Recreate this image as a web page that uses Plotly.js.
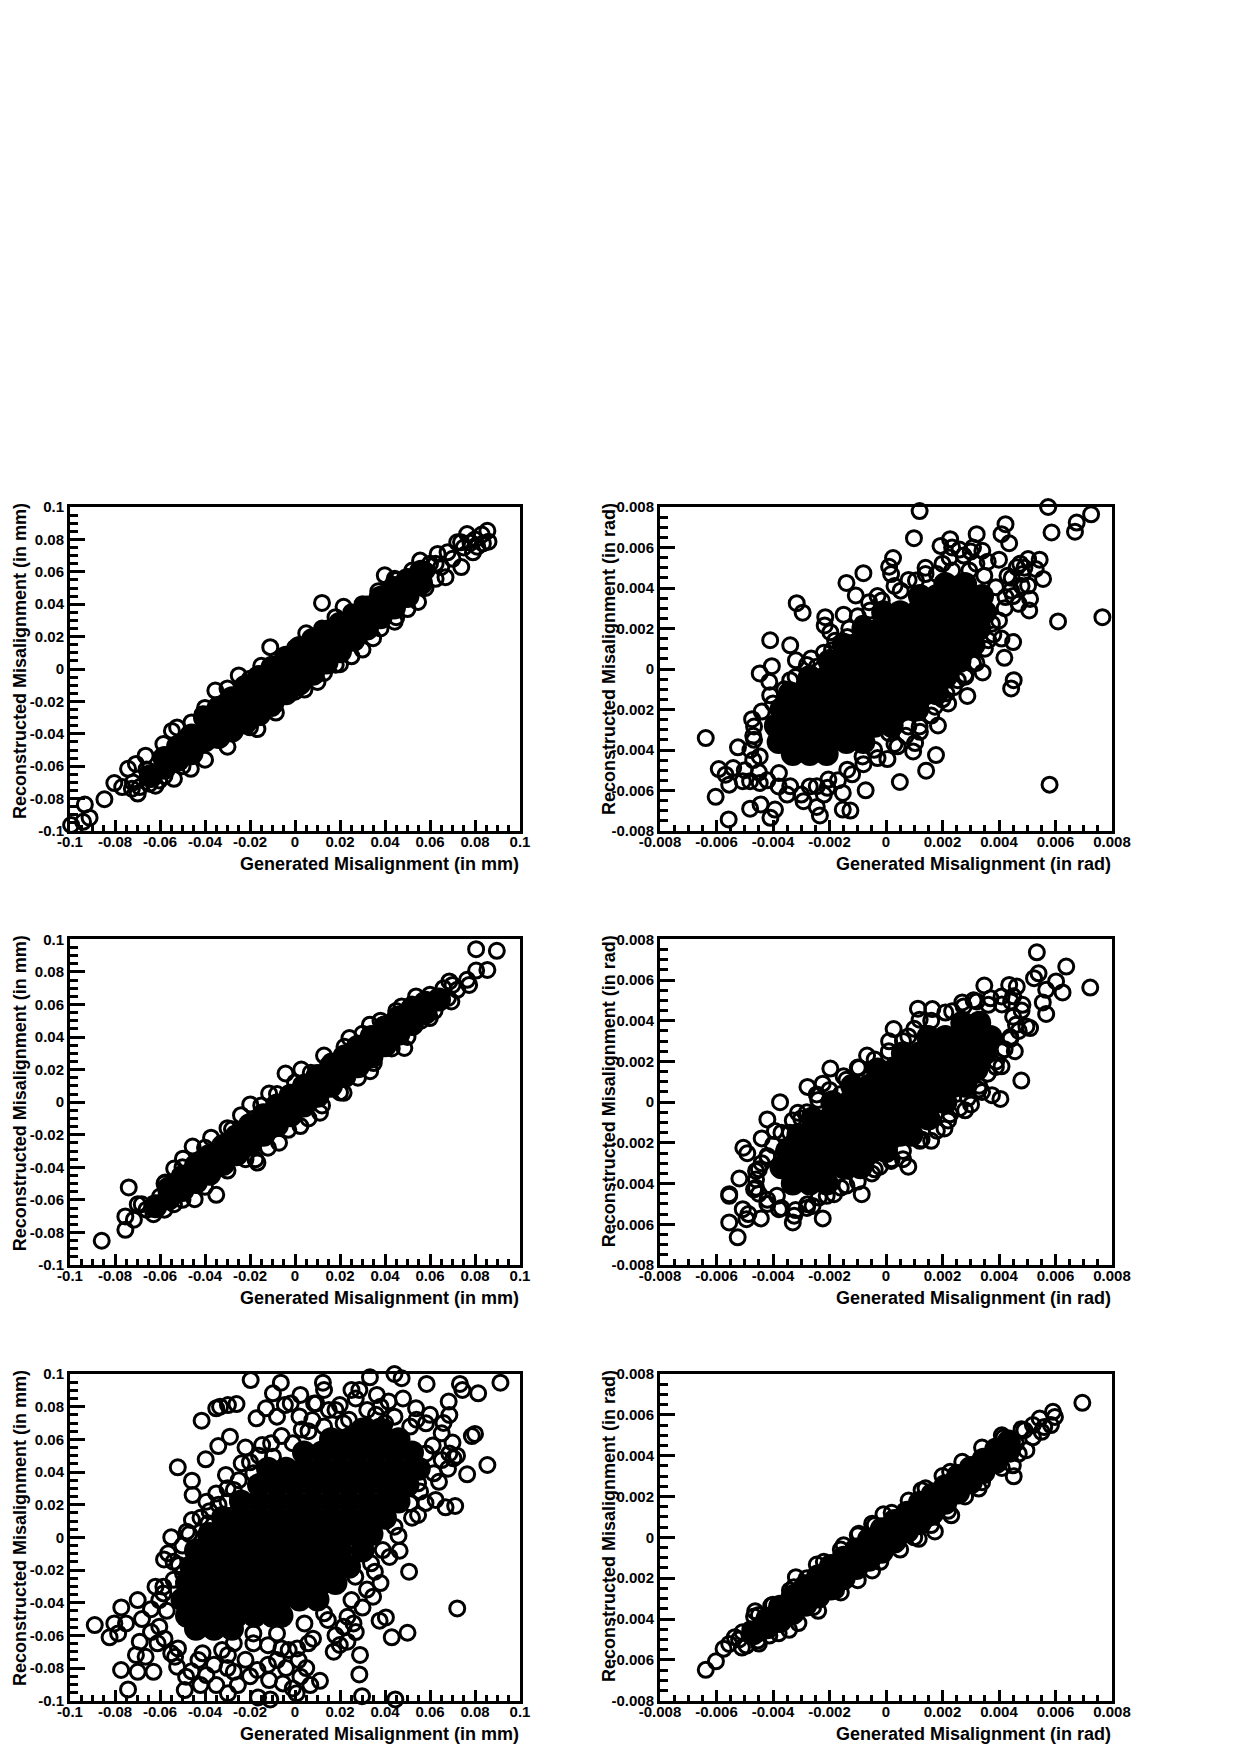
<!DOCTYPE html>
<html><head><meta charset="utf-8">
<script src="https://cdn.plot.ly/plotly-3.0.1.min.js"></script>
<style>html,body{margin:0;padding:0;background:#fff}#c{width:1240px;height:1754px}</style>
</head><body><div id="c"></div>
<script>
// ---------- tick labels ----------
const mmTicks=[-0.1,-0.08,-0.06,-0.04,-0.02,0,0.02,0.04,0.06,0.08,0.1];
const mmLabels=['-0.1','-0.08','-0.06','-0.04','-0.02','0','0.02','0.04','0.06','0.08','0.1'];
const radTicks=[-0.008,-0.006,-0.004,-0.002,0,0.002,0.004,0.006,0.008];
const radLabels=['-0.008','-0.006','-0.004','-0.002','0','0.002','0.004','0.006','0.008'];
const titleXmm='Generated Misalignment (in mm)', titleYmm='Reconstructed Misalignment (in mm)';
const titleXrad='Generated Misalignment (in rad)', titleYrad='Reconstructed Misalignment (in rad)';

// ---------- panel 1 (mm, top left) ----------
const p1Open=[[.012,.0408],[.0216,.0384],[-.011,.0135],[-.0354,-.0133],[-.0085,-.0269],[-.0167,-.0371],[-.0847,-.0804],[-.0934,-.0837],[-.0913,-.0918],[-.0995,-.0963],[-.0942,-.0943],[-.0538,-.0678],[-.0463,-.0616],[-.0524,-.0361],[-.0547,-.0382],[-.0585,-.0463],[-.0664,-.0535],[-.0707,-.0586],[-.0742,-.0616],[-.0803,-.0704],[-.0768,-.0729],[-.0699,-.0769],[-.0725,-.0739],[-.069,-.0729],[-.0646,-.0708],[-.0603,-.0688],[-.0411,-.028],[.0855,.0853],[.086,.0786],[.0765,.0833],[.0721,.0782],[.0791,.072],[.0739,.0629],[.0669,.0567],[.0625,.0557],[.0634,.071],[.0678,.072],[.0556,.0669],[.0521,.0608],[.0399,.0578],[.0443,.0557],[.0547,.0414],[.0443,.0292],[.0347,.019],[.0251,.0078],[.0181,.0027],[.0129,-.0024],[.0042,-.0127],[-.002,-.0145],[.0738,.0782],[.081,.0755],[.0835,.0775],[.0625,.065],[.0585,.0605],
[-.072,-.07],[-.066,-.062],[-.062,-.072],[-.058,-.066],[-.05,-.06],[-.046,-.033],[-.04,-.024],[-.03,-.012],[-.025,-.004],[-.02,-.006],[-.015,.002],[-.005,.007],[0,.013],[.005,.022],[.012,.025],[.018,.032],[.025,.035],[.03,.04],[.037,.048],[.045,.055],[.056,.06],[.06,.065],[.065,.063],[.07,.068],[.075,.075],[.08,.08],[.083,.083],[.078,.078],[.03,.012],[.038,.025],[.045,.032],[.05,.037],[.058,.05],[-.03,-.048],[-.04,-.056],[-.02,-.036],[-.01,-.024],[0,-.014],[.01,-.008],[.02,.003]];
const p1CoreCols=[[-.064,[-.066]],[-.058,[-.061,-.055]],[-.052,[-.056,-.048]],[-.046,[-.052,-.041]],[-.04,[-.044,-.03]],[-.034,[-.042,-.033,-.024]],[-.028,[-.038,-.028,-.018]],[-.022,[-.033,-.022,-.011]],[-.016,[-.028,-.016,-.005]],[-.01,[-.021,-.01,.001]],[-.004,[-.015,-.004,.007]],[.002,[-.009,.002,.013]],[.008,[-.003,.008,.018]],[.014,[.004,.014,.023]],[.02,[.011,.02,.028]],[.026,[.018,.025,.032]],[.032,[.025,.038]],[.038,[.032,.044]],[.044,[.038,.05]],[.05,[.045,.055]],[.056,[.053,.06]]];

// ---------- panel 2 (rad, top right) ----------
const p2Open=[[.00119,.0078],[.00574,.008],[.00726,.00764],[.00675,.00723],[.00669,.00678],[.00586,.00674],[.00099,.00646],[.00423,.00715],[.00409,.00666],[.00436,.00621],[.00766,.00256],[.00609,.00235],[.00579,-.00571],[.00556,.00445],[.00544,.0054],[.0053,.00494],[.00503,.00543],[.00463,.00502],[.00483,.00469],[.00503,.00412],[.0051,.00346],[.00507,.00289],[.0045,.00133],[.00409,.0015],[.00419,.00055],[.00452,-.00055],[.00443,-.00096],[.00342,-.00017],[.00288,-.00133],[.0022,-.0017],[.00184,-.00279],[.00177,-.00425],[.00142,-.00502],[.00049,-.00558],[.00096,-.00407],[.00103,-.00366],[.00041,-.00382],[.00005,-.00445],[-.00072,-.00599],[-.00126,-.00699],[-.00153,-.00694],[-.00153,-.00612],[-.00207,-.00587],[-.00234,-.00723],[-.00245,-.00681],[-.00292,-.00653],[-.00393,-.00694],[-.00409,-.00735],[-.00444,-.00669],[-.00481,-.0069],[-.00557,-.00743],[-.00603,-.00631],[-.00638,-.00341],[-.00524,-.00387],[-.00592,-.00494],[-.00568,-.00522],[-.00541,-.00489],[-.00555,-.00571],[-.00507,-.00554],[-.00481,-.00554],[-.00447,-.00563],[-.00474,-.00248],[-.00447,-.00022],[-.00413,-.00063],[-.00404,.00014],[-.0041,.00142],[-.00339,.00117],[-.00316,.00325],[-.00295,.00278],[-.00319,.00043],[-.00265,.00052],[-.00215,.00256],[-.00217,.00215],[-.00197,.00182],[-.0015,.00268],[-.0014,.00425],[-.0008,.00473],[-.00107,.00363],[.00025,.00548],[.00011,.00505],[.00018,.00469],[.00193,.00608],[.00227,.00641],[.00321,.00666],
[.00106,.00437],[.0014,.00469],[.0018,.00469],[.00234,.00486],[.00295,.00486],[.00348,.00461],[.00389,.00404],[.00423,.00355],[.00443,.00387],[.0047,.00322],[.00375,.00224],[.00362,.00142],[.00308,.00027],[.00281,-.00038],[.00254,-.00055],[.00214,-.0012],[.00173,-.00186],[.00119,-.00284],[.00079,-.00284],[.00011,-.00317],[-.00042,-.00399],[-.00083,-.00432],[-.00137,-.00497],[-.00204,-.00546],[-.00245,-.00579],[-.00339,-.00579],[-.00379,-.00514],[-.00447,-.00432],[-.00467,-.0035],[-.00467,-.00284],[-.004,-.0017],[-.00339,-.00055],[-.00245,.00011],[-.00191,.00093],[-.00137,.00158],[-.00083,.00224],[-.00056,.00289],[-.00015,.00338],[.00052,.00387],[.00234,.006],[.00308,.006],[.00341,.00584],[.00275,.0056],[.00225,.0055],[.0032,.0052],[.00445,.0045],[.00475,.0052],[.0049,.005],
[-.0047,-.0045],[-.005,-.005],[-.0045,-.0051],[-.0042,-.0055],[-.0038,-.0058],[-.0035,-.0062],[-.003,-.0062],[-.0027,-.0058],[-.0022,-.0062],[-.0017,-.0055],[-.0012,-.0052],[-.0008,-.0047],[-.0003,-.0044],[.0003,-.0037],[.0007,-.0033],[.0012,-.0031],[.0016,-.0023],[.002,-.0015],[.0024,-.0009],[.0028,-.0003],[.0032,.0003],[.0035,.001],[.0038,.0017],[.004,.0024],[.0042,.003],[.0045,.0036],[.0048,.0041],[.0043,.0046],[.004,.0054],[.0036,.0053],[.003,.0058],[.0026,.0059],[.002,.0052],[.0014,.005],[.0008,.0044],[.0003,.0041],[-.0003,.0036],[-.0006,.0033],[-.001,.0026],[-.0013,.002],[-.0018,.0014],[-.0022,.0008],[-.0028,.0002],[-.0032,-.0004],[-.0036,-.001],[-.0041,-.0013],[-.0044,-.0021],[-.0047,-.0033],[-.0048,-.004]];
const p2CoreRows=[[.0042,[.0021,.0028]],[.0036,[.0012,.0018,.0024,.003,.0034]],[.0028,[-.0001,.0005,.0011,.0017,.0023,.0029,.0035]],[.002,[-.0008,-.0002,.0004,.001,.0016,.0022,.0028,.0033]],[.0012,[-.0015,-.0009,-.0003,.0003,.0009,.0015,.0021,.0027,.0031]],[.0004,[-.002,-.0014,-.0008,-.0002,.0004,.001,.0016,.0022,.0026]],[-.0004,[-.0027,-.0021,-.0015,-.0009,-.0003,.0003,.0009,.0015,.0021]],[-.0012,[-.0034,-.0028,-.0022,-.0016,-.001,-.0004,.0002,.0008,.0014,.0018]],[-.002,[-.0037,-.0031,-.0025,-.0019,-.0013,-.0007,-.0001,.0005,.0011]],[-.0028,[-.0039,-.0034,-.0028,-.0022,-.0016,-.001,-.0004,.0002]],[-.0036,[-.0038,-.0032,-.0026,-.002,-.0014,-.0008]],[-.0042,[-.0033,-.0027,-.0021]]];

// ---------- panel 3 (mm, middle left) ----------
const p3Open=[[.0805,.0939],[.0897,.0929],[.0805,.0808],[.0855,.0812],[.0774,.072],[.0765,.0751],[.0721,.069],[.0686,.0741],[.0538,.0649],[.0474,.0588],[.0333,.0476],[.0242,.0394],[.0129,.0286],[-.0042,.0176],[.0028,.02],[-.0115,.0053],[-.0199,-.0014],[-.028,-.0167],[-.0373,-.0218],[-.0455,-.0273],[-.0498,-.0347],[-.0537,-.0408],[-.0577,-.0494],[-.0739,-.0524],[-.0699,-.0627],[-.0681,-.0627],[-.0754,-.0702],[-.0716,-.0722],[-.0754,-.0784],[-.0859,-.0851],[-.035,-.0569],[-.0446,-.0596],[-.0538,-.0627],[-.0629,-.0688],[-.0167,-.0371],[-.0176,-.0351],[-.0071,-.0249],[.0024,-.0147],[.0111,-.0065],[.0216,.0057],[.0334,.019],[.0486,.0333],[.0599,.0516],[.0695,.0618],
[-.066,-.066],[-.06,-.058],[-.058,-.05],[-.05,-.04],[-.04,-.028],[-.03,-.016],[-.024,-.008],[-.015,-.002],[-.008,.005],[0,.012],[.007,.018],[.016,.025],[.022,.034],[.03,.042],[.038,.05],[.045,.056],[.052,.06],[.06,.066],[.066,.07],[.07,.072],[.068,.064],[.062,.056],[.056,.05],[.05,.04],[.043,.033],[.035,.024],[.028,.015],[.02,.006],[.012,-.002],[.006,-.01],[-.003,-.017],[-.012,-.028],[-.022,-.035],[-.03,-.042],[-.04,-.052],[-.05,-.06],[-.058,-.066]];
const p3CoreCols=[[-.062,[-.064]],[-.056,[-.059,-.053]],[-.05,[-.054,-.046]],[-.044,[-.049,-.039]],[-.038,[-.044,-.033]],[-.032,[-.038,-.027]],[-.026,[-.032,-.021]],[-.02,[-.026,-.014]],[-.014,[-.02,-.008]],[-.008,[-.014,-.002]],[-.002,[-.008,.004]],[.004,[-.002,.01]],[.01,[.004,.016]],[.016,[.01,.022]],[.022,[.016,.028]],[.028,[.022,.034]],[.034,[.028,.04]],[.04,[.035,.046]],[.046,[.042,.052]],[.052,[.048,.057]],[.058,[.055,.061]],[.064,[.063]]];

// ---------- panel 4 (rad, middle right) ----------
const p4Open=[[.00534,.00736],[.00638,.00666],[.00723,.00563],[.0054,.00633],[.00524,.00609],[.00602,.00593],[.00567,.00552],[.00625,.00539],[.00555,.0049],[.00567,.00433],[.0051,.00364],[.00497,.00372],[.00348,.00573],[.00436,.00576],[.00463,.00568],[.00483,.00478],[.00456,.0025],[.00409,.00176],[.00389,.00173],[.00479,.00106],[.00375,.00034],[.00405,.00016],[.00328,.00062],[.00301,-.00011],[.00227,-.0006],[.00207,-.00129],[.00126,-.00183],[.00079,-.00317],[.00018,-.00289],[-.00022,-.00317],[-.00086,-.00452],[-.00184,-.00452],[-.00224,-.00571],[-.00238,-.00469],[-.00278,-.00501],[-.00325,-.00558],[-.0033,-.00591],[-.00379,-.00526],[-.00386,-.0046],[-.00443,-.00571],[-.00487,-.0055],[-.00494,-.00575],[-.00507,-.00526],[-.00555,-.00591],[-.00525,-.00664],[-.00555,-.0046],[-.00555,-.00452],[-.00519,-.00375],[-.0046,-.00338],[-.00467,-.00428],[-.00505,-.00224],[-.00491,-.00251],[-.0044,-.00178],[-.0042,-.00085],[-.0042,-.00264],[-.00393,-.00142],[-.00375,0],[-.00312,-.00052],[-.00278,.00075],[-.00224,.00091],[-.00245,.00038],[-.00197,.00165],[-.0015,.00127],[-.00067,.00229],[-.00096,.00168],[.00011,.00299],[.00027,.00359],[.00079,.00323],[.00113,.00459],[.00164,.00457],[.00119,.00405],[.00234,.00446],[.00321,.00495],[.00362,.00478],[.00409,.00519],[.00443,.00495],[.00275,.0047],[.0045,.0042],[.0047,.0035],[.0044,.0031],[.0041,.0025],[.0034,.0005],[.0028,-.0004],[.0016,-.0019],[.0006,-.0028],[-.0005,-.0035],[-.0016,-.0042],[-.0028,-.0052],[-.0042,-.0048],[-.0046,-.0042],[-.0044,-.003],[-.0034,-.0015],[-.003,-.0008],[-.0016,.0004],[-.0003,.0016],
[-.0045,-.0045],[-.0042,-.005],[-.0037,-.0052],[-.0032,-.0053],[-.0026,-.0051],[-.0021,-.0046],[-.0014,-.0041],[-.001,-.0039],[-.0004,-.0033],[.0002,-.0028],[.0006,-.0024],[.0012,-.0019],[.0018,-.0014],[.0022,-.0009],[.0026,-.0003],[.0029,.0002],[.0033,.0008],[.0036,.0014],[.0039,.002],[.0042,.0026],[.0044,.0032],[.0046,.0038],[.0048,.0045],[.0045,.0052],[.0041,.0048],[.0037,.0051],[.0031,.005],[.0027,.0049],[.0021,.0044],[.0016,.004],[.001,.0036],[.0006,.003],[.0001,.0025],[-.0004,.0021],[-.001,.0017],[-.0014,.0011],[-.002,.0006],[-.0024,.0001],[-.0028,-.0005],[-.0033,-.0009],[-.0037,-.0015],[-.004,-.0021],[-.0042,-.0027],[-.0045,-.0033],[-.0046,-.0038]];
const p4CoreRows=[[.0039,[.0027,.0033]],[.0032,[.0015,.0021,.0027,.0033,.0037]],[.0024,[.0006,.0012,.0018,.0024,.003,.0035]],[.0016,[-.0003,.0003,.0009,.0015,.0021,.0027,.0032]],[.0008,[-.0012,-.0006,0,.0006,.0012,.0018,.0024,.0028]],[0,[-.0019,-.0013,-.0007,-.0001,.0005,.0011,.0017,.0021]],[-.0008,[-.0026,-.002,-.0014,-.0008,-.0002,.0004,.001,.0015]],[-.0016,[-.0031,-.0025,-.0019,-.0013,-.0007,-.0001,.0005,.0009]],[-.0024,[-.0035,-.003,-.0024,-.0018,-.0012,-.0006,0]],[-.0032,[-.0037,-.0033,-.0027,-.0021,-.0015,-.0009]],[-.004,[-.0033,-.0027,-.0021]]];

// ---------- panel 5 (mm, bottom left) ----------
const p5Open=[[.0442,.1],[.0474,.0974],[.0333,.098],[-.0197,.0963],[-.0063,.0947],[.0124,.0947],[.0129,.0902],[.0585,.0939],[.0733,.0939],[.0744,.0902],[.0814,.0882],[.0913,.0947],[-.0098,.0882],[.0024,.0872],[-.026,.0816],[-.0298,.081],[-.0333,.08],[-.035,.079],[-.0415,.0714],[-.0129,.079],[-.0171,.0729],[-.008,.0739],[-.0045,.081],[-.0019,.082],[.0085,.082],[.0199,.081],[.0251,.0902],[.0286,.0902],[.0364,.0872],[.0416,.0831],[.0683,.0831],[.0686,.0749],[.0538,.079],[.08,.0633],[.0786,.062],[-.0289,.0616],[-.0341,.0559],[-.0397,.0478],[-.0521,.0429],[-.0146,.0565],[-.0106,.0576],[-.0237,.0453],[.0855,.0443],[.0765,.0386],[.0704,.0484],[-.0307,.0382],[-.0458,.0347],[-.0455,.0259],[-.0394,.0218],[-.035,.0269],[.0625,.0229],[.0669,.0184],[.0712,.0192],[.0547,.0137],[.0556,.028],[-.055,0],[-.0458,.0106],[-.0481,.0035],[-.0385,.0086],[-.0564,-.0098],[-.0582,-.0135],[-.0516,-.0169],[-.0585,-.0302],[.0465,-.0082],[.0507,-.021],[.0355,-.021],[.0347,-.0363],[.0721,-.0435],[-.0699,-.0384],[-.0772,-.0429],[-.089,-.0537],[-.0803,-.0527],[-.0824,-.0612],[-.0751,-.0527],[-.0786,-.0588],[-.069,-.0639],[-.0707,-.072],[-.0664,-.0731],[-.0629,-.0823],[-.0699,-.0823],[-.0773,-.0812],[-.0742,-.0931],[.05,-.0584],[.043,-.0612],[.0404,-.049],[.0376,-.051],[.0289,-.072],[.0286,-.0839],[.0298,-.0972],[.0446,-.0992],[.0111,-.0878],[.0068,-.0904],[.0172,-.07],[.0233,-.0639],[.0199,-.0659],[.0059,-.0649],[-.0164,-.098],[-.011,-.0992],[-.0298,-.0955],[-.0254,-.0904],[-.035,-.0904],[-.042,-.0904],[-.049,-.0935],[-.0484,-.0853],[-.0524,-.0792],[-.0394,-.0843],[-.0272,-.0823],[-.0167,-.0812],[-.0115,-.0874],[-.0054,-.0894],[-.001,-.0925],[.0007,-.0955],[.0024,-.0853],[.0016,-.0751],[-.0028,-.069],[-.008,-.0751],[-.0185,-.0649],[-.0298,-.072],[.0146,-.0506],[.0216,-.0547],[.026,-.0527],[-.0603,-.0384],[-.062,-.0302],[-.0611,-.0649],[-.055,-.071],[-.0411,-.071],
[-.0254,.0229],[-.0185,.0392],[-.0098,.0494],[-.001,.0576],[.0077,.0718],[.0129,.0678],[.0216,.0698],[.0321,.078],[.0321,.0678],[.0442,.0739],[.0512,.0678],[.0582,.0698],[.0652,.0637],[.0686,.0514],[.0617,.0392],[.0547,.0331],[.0512,.0208],[.0442,.0065],[.039,-.0078],[.0338,-.0159],[.0268,-.0241],[.0251,-.0384],[.0233,-.0486],[.0129,-.0465],[.0042,-.0527],[-.008,-.0588],[-.0185,-.0588],[-.0272,-.0649],[-.0324,-.069],[-.0429,-.0751],[-.0533,-.0731],[-.0603,-.0547],[-.0585,-.0343],[-.0498,-.022],[-.0446,-.0078],[-.0394,.0004],[-.0307,.0127],[-.0272,.029],[.0094,.082],[.0582,.0514],[.0652,.0473],[.027,.085],[.036,.075],[.015,.078],[.003,.066],[.0612,.0562],
[-.03,.03],[-.022,.055],[-.016,.05],[-.006,.062],[.002,.074],[.006,.065],[.018,.078],[.024,.072],[.038,.08],[.04,.07],[.048,.085],[.054,.072],[.06,.075],[.066,.07],[.07,.058],[.072,.05],[.068,.042],[.064,.034],[.058,.021],[.052,.012],[.046,.001],[.042,-.012],[.038,-.028],[.032,-.032],[.03,-.043],[.027,-.058],[.018,-.06],[.008,-.062],[.001,-.068],[-.006,-.068],[-.012,-.066],[-.022,-.075],[-.02,-.085],[-.012,-.078],[-.004,-.08],[.005,-.08],[-.03,-.08],[-.036,-.078],[-.046,-.082],[-.052,-.068],[-.058,-.062],[-.064,-.058],[-.068,-.05],[-.064,-.044],[-.057,-.045],[-.054,-.026],[-.054,-.015],[-.05,-.005],[-.047,.002],[-.042,.012],[-.038,.016],[-.034,.02],[-.03,.022],[-.025,.035],[-.02,.046]];
const p5CoreRows=[[.066,[.03,.038]],[.06,[.016,.024,.032,.04,.046]],[.052,[.004,.012,.02,.028,.036,.044,.052]],[.042,[-.012,-.004,.004,.012,.02,.028,.036,.044,.052,.055]],[.032,[-.016,-.008,0,.008,.016,.024,.032,.04,.048,.05]],[.022,[-.024,-.016,-.008,0,.008,.016,.024,.032,.04,.046]],[.012,[-.032,-.024,-.016,-.008,0,.008,.016,.024,.032,.04]],[.002,[-.038,-.03,-.022,-.014,-.006,.002,.01,.018,.026,.034]],[-.008,[-.044,-.036,-.028,-.02,-.012,-.004,.004,.012,.02,.03]],[-.018,[-.046,-.04,-.032,-.024,-.016,-.008,0,.008,.016,.024]],[-.028,[-.048,-.044,-.036,-.028,-.02,-.012,-.004,.004,.012,.018]],[-.038,[-.05,-.046,-.038,-.03,-.022,-.014,-.006,.002,.01]],[-.048,[-.048,-.042,-.034,-.026,-.018,-.01,-.006]],[-.056,[-.044,-.036,-.028]]];

// ---------- panel 6 (rad, bottom right) ----------
const p6Open=[[.00695,.00659],[.00598,.0059],[.00591,.00615],[.00544,.00582],[.00584,.0055],[.00551,.00517],[.0049,.00525],[.00416,.00489],[.00497,.00427],[.00449,.00353],[.00452,.00299],[.00328,.00239],[.00227,.00321],[.00231,.00108],[.00173,.00029],[.00116,-.00007],[.00126,.00231],[-.00009,.00113],[-.00049,.00067],[-.00096,.00018],[-.0015,-.00039],[-.00245,-.00133],[-.00319,-.00195],[-.00326,-.00244],[-.00406,-.00334],[-.00463,-.00362],[-.00467,-.00388],[-.00343,-.00453],[-.00413,-.00481],[-.00454,-.00505],[-.00494,-.0053],[-.00508,-.00465],[-.00535,-.00489],[-.00555,-.00522],[-.00575,-.00546],[-.00602,-.00607],[-.00638,-.00649],[-.00049,-.00162],[-.00177,-.0026],[-.00258,-.00342],[.0052,.0049],[.0056,.0054],[.0046,.0046],[.0044,.0041],
[-.0052,-.005],[-.0048,-.0045],[-.0045,-.0038],[-.004,-.0033],[-.0034,-.0026],[-.0028,-.002],[-.0022,-.0012],[-.0016,-.0006],[-.001,.0001],[-.0004,.0006],[.0002,.0012],[.0008,.0018],[.0014,.0024],[.002,.003],[.0027,.0037],[.0034,.0044],[.0041,.005],[.0048,.0053],[.0052,.0055],[.0047,.0041],[.0041,.0034],[.0034,.0027],[.0028,.002],[.0022,.0013],[.0016,.0006],[.001,0],[.0005,-.0006],[-.0002,-.0012],[-.001,-.0021],[-.0016,-.0027],[-.0024,-.0036],[-.0031,-.0042],[-.0038,-.0047],[-.0045,-.0052],[-.0051,-.0054]];
const p6CoreCols=[[-.0047,[-.0047]],[-.0042,[-.0044,-.004]],[-.00375,[-.0041,-.0034]],[-.0033,[-.0037,-.0029]],[-.00285,[-.0033,-.0024]],[-.0024,[-.0029,-.0019]],[-.00195,[-.0025,-.0014]],[-.0015,[-.002,-.001]],[-.00105,[-.0015,-.0006]],[-.0006,[-.0011,-.0001]],[-.00015,[-.0007,.0004]],[.0003,[-.0002,.0008]],[.00075,[.0003,.0012]],[.0012,[.0007,.0017]],[.00165,[.0012,.0021]],[.0021,[.0017,.0025]],[.00255,[.0022,.003]],[.003,[.0027,.0034]],[.00345,[.0032,.0038]],[.0039,[.0037,.0043]],[.00435,[.0043,.0047]]];

// ---------- layout constants ----------
const W=1240,H=1754;
const colX=[[70,520],[660,1112]];
const rowY=[[507,831],[939.3,1265],[1374,1700.7]];
const fontFam='"Liberation Sans", Arial, sans-serif';
const tickFont={family:fontFam,size:15,color:'#000',weight:700};
const titleFont={family:fontFam,size:18,color:'#000',weight:700};

const rows=r=>r.flatMap(([y,xs])=>xs.map(x=>[x,y]));
const cols=c=>c.flatMap(([x,ys])=>ys.map(y=>[x,y]));
const panels=[
 {col:0,row:0,open:p1Open,core:cols(p1CoreCols),unit:'mm'},
 {col:1,row:0,open:p2Open,core:rows(p2CoreRows),unit:'rad'},
 {col:0,row:1,open:p3Open,core:cols(p3CoreCols),unit:'mm'},
 {col:1,row:1,open:p4Open,core:rows(p4CoreRows),unit:'rad'},
 {col:0,row:2,open:p5Open,core:rows(p5CoreRows),unit:'mm'},
 {col:1,row:2,open:p6Open,core:cols(p6CoreCols),unit:'rad'}
];
const data=[],layout={width:W,height:H,paper_bgcolor:'#fff',plot_bgcolor:'#fff',showlegend:false,
  margin:{l:0,r:0,t:0,b:0},annotations:[]};

panels.forEach((p,i)=>{
  const n=i+1, xa='x'+(n===1?'':n), ya='y'+(n===1?'':n);
  const [x0,x1]=colX[p.col],[y0,y1]=rowY[p.row];
  const mm=p.unit==='mm';
  const ticks=mm?mmTicks:radTicks, labels=mm?mmLabels:radLabels, lim=mm?0.1:0.008, minorStep=mm?0.005:0.0005;
  const axis=(len,minLen)=>({range:[-lim,lim],showgrid:false,zeroline:false,showline:true,mirror:true,linecolor:'#000',linewidth:3,
    tickmode:'array',tickvals:ticks,ticktext:labels,ticks:'inside',ticklen:len,tickwidth:2.5,tickcolor:'#000',tickfont:tickFont,
    minor:{ticks:'inside',dtick:minorStep,tick0:0,ticklen:minLen,tickwidth:2.5,tickcolor:'#000',showgrid:false}});
  layout['xaxis'+(n===1?'':n)]=Object.assign(axis(11,6),{domain:[x0/W,x1/W],anchor:ya,ticklabelstandoff:-5});
  layout['yaxis'+(n===1?'':n)]=Object.assign(axis(15,8),{domain:[1-y1/H,1-y0/H],anchor:xa});
  data.push({type:'scatter',mode:'markers',xaxis:xa,yaxis:ya,x:p.core.map(q=>q[0]),y:p.core.map(q=>q[1]),cliponaxis:false,hoverinfo:'skip',
    marker:{symbol:'circle',size:24,color:'#000',line:{width:0}}});
  data.push({type:'scatter',mode:'markers',xaxis:xa,yaxis:ya,x:p.open.map(q=>q[0]),y:p.open.map(q=>q[1]),cliponaxis:false,
    marker:{symbol:'circle-open',size:15,color:'#000',line:{width:3,color:'#000'}}});
  layout.annotations.push({xref:'paper',yref:'paper',x:(x1+1)/W,y:1-(y1+33)/H,xanchor:'right',yanchor:'middle',showarrow:false,
    text:mm?titleXmm:titleXrad,font:titleFont});
  layout.annotations.push({xref:'paper',yref:'paper',x:(x0+(mm?-50:-51))/W,y:1-(y0-6)/H,xanchor:'center',yanchor:'top',showarrow:false,textangle:-90,
    text:mm?titleYmm:titleYrad,font:titleFont});
});
Plotly.newPlot('c',data,layout,{displayModeBar:false,responsive:false});
</script></body></html>
